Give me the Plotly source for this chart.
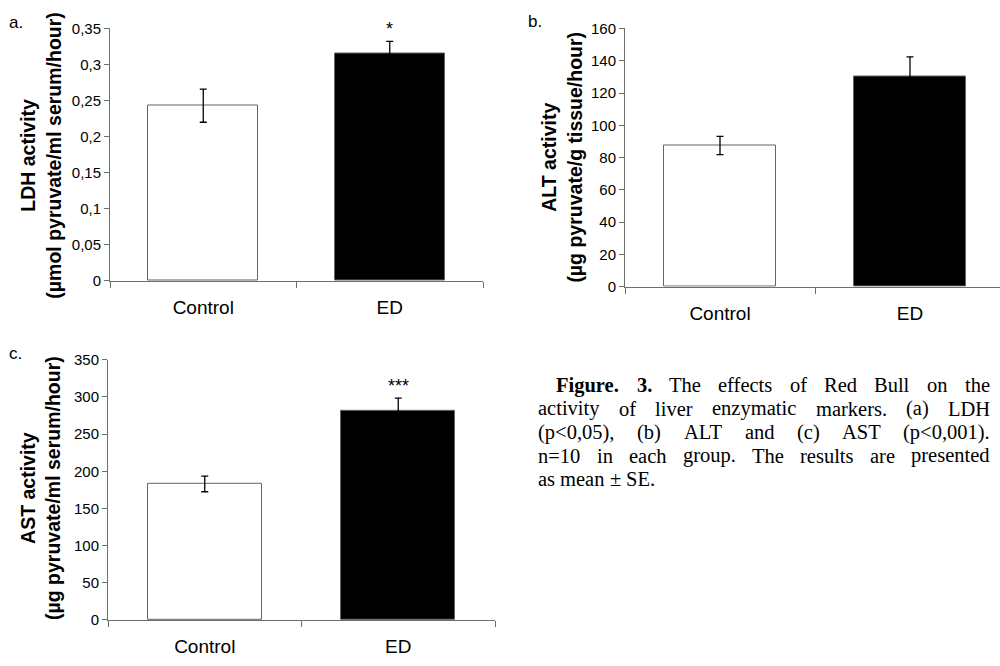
import plotly.graph_objects as go

# ---------------- data ----------------
groups = ["Control", "ED"]
bar_colors = ["white", "black"]

ldh_mean = [0.243, 0.315]
ldh_se = [0.023, 0.017]
alt_mean = [87.5, 130.0]
alt_se = [5.7, 12.4]
ast_mean = [183.0, 282.0]
ast_se = [10.5, 16.5]

ldh_tickvals = [0, 0.05, 0.1, 0.15, 0.2, 0.25, 0.3, 0.35]
ldh_ticktext = ["0", "0,05", "0,1", "0,15", "0,2", "0,25", "0,3", "0,35"]
alt_tickvals = [0, 20, 40, 60, 80, 100, 120, 140, 160]
alt_ticktext = ["0", "20", "40", "60", "80", "100", "120", "140", "160"]
ast_tickvals = [0, 50, 100, 150, 200, 250, 300, 350]
ast_ticktext = ["0", "50", "100", "150", "200", "250", "300", "350"]

ldh_stars = ["", "*"]
alt_stars = ["", ""]
ast_stars = ["", "***"]

ldh_title = ["LDH activity", "(µmol pyruvate/ml serum/hour)"]
alt_title = ["ALT activity", "(µg pyruvate/g tissue/hour)"]
ast_title = ["AST activity", "(µg pyruvate/ml serum/hour)"]

caption_lines = [
    "Figure. 3. The effects of Red Bull on the",
    "activity of liver enzymatic markers. (a) LDH",
    "(p<0,05), (b) ALT and (c) AST (p<0,001).",
    "n=10 in each group. The results are presented",
    "as mean ± SE.",
]
caption_bold_words = 2  # "Figure." and "3." are bold

# ---------------- layout helpers ----------------
W, H = 1000, 666
SANS = "Liberation Sans, Arial, sans-serif"
SERIF = "Liberation Serif, Times New Roman, serif"
AXC = "#6e6e6e"


def fx(p):
    return p / W


def fy(p):
    return 1 - p / H


fig = go.Figure()

panels = [
    dict(mean=ldh_mean, se=ldh_se, tv=ldh_tickvals, tt=ldh_ticktext, stars=ldh_stars,
         title=ldh_title, xdom=[110, 483], ytop=20, ybot=279, xr=[-0.5, 1.5],
         yr=[0, 0.35], tx=40.5, ty=151, letter="a.", lx=16, ly=14),
    dict(mean=alt_mean, se=alt_se, tv=alt_tickvals, tt=alt_ticktext, stars=alt_stars,
         title=alt_title, xdom=[625, 1000], ytop=20, ybot=285, xr=[-0.5, -0.5 + 375 / 190],
         yr=[0, 160], tx=561.5, ty=152, letter="b.", lx=535, ly=13),
    dict(mean=ast_mean, se=ast_se, tv=ast_tickvals, tt=ast_ticktext, stars=ast_stars,
         title=ast_title, xdom=[108, 495], ytop=360, ybot=627, xr=[-0.5, 1.5],
         yr=[0, 350], tx=40.5, ty=492, letter="c.", lx=15, ly=354),
]

layout_axes = {}
annotations = []
for i, p in enumerate(panels, start=1):
    sfx = "" if i == 1 else str(i)
    fig.add_trace(go.Bar(
        x=groups, y=p["mean"], width=0.59,
        marker=dict(color=bar_colors, line=dict(color="#666666", width=1)),
        error_y=dict(type="data", array=p["se"], visible=True, color="black",
                     thickness=1.3, width=3.5),
        xaxis="x" + sfx, yaxis="y" + sfx, showlegend=False, hoverinfo="skip",
    ))
    layout_axes["xaxis" + sfx] = dict(
        domain=[fx(p["xdom"][0]), fx(p["xdom"][1])], range=p["xr"], type="category",
        anchor="y" + sfx, showline=True, linecolor=AXC, linewidth=1,
        ticks="outside", tickson="boundaries", ticklen=6, tickcolor=AXC, tickwidth=1,
        tickfont=dict(family=SANS, size=19, color="black"), ticklabelstandoff=9,
        showgrid=False, zeroline=False, fixedrange=True,
    )
    layout_axes["yaxis" + sfx] = dict(
        domain=[fy(p["ybot"]), fy(p["ytop"])], range=p["yr"], anchor="x" + sfx,
        showline=True, linecolor=AXC, linewidth=1, ticks="outside", ticklen=5,
        tickcolor=AXC, tickwidth=1, tickvals=p["tv"], ticktext=p["tt"],
        tickfont=dict(family=SANS, size=15, color="black"),
        showgrid=False, zeroline=False, fixedrange=True,
    )
    # significance stars
    for g, m, s, st in zip(groups, p["mean"], p["se"], p["stars"]):
        if st:
            annotations.append(dict(
                x=g, y=m + s, xref="x" + sfx, yref="y" + sfx, text=st, showarrow=False,
                yanchor="bottom", yshift=0, font=dict(family=SANS, size=18, color="black"),
            ))
    # y-axis titles
    annotations.append(dict(
        x=fx(p["tx"]), y=fy(p["ty"]), xref="paper", yref="paper",
        text="<b>" + p["title"][0] + "</b><br><b>" + p["title"][1] + "</b>",
        textangle=-90, showarrow=False, xanchor="center", yanchor="middle",
        font=dict(family=SANS, size=19.5, color="black"),
    ))
    # panel letters
    annotations.append(dict(
        x=fx(p["lx"]), y=fy(p["ly"]), xref="paper", yref="paper", text=p["letter"],
        showarrow=False, xanchor="center", yanchor="middle",
        font=dict(family=SANS, size=17, color="black"),
    ))

# ---------------- justified caption ----------------
REG = {' ': 250, '(': 333, ')': 333, ',': 250, '.': 250, '/': 278, '<': 564, '=': 564,
       '±': 564, 'A': 722, 'B': 667, 'D': 722, 'E': 611, 'F': 556, 'H': 722, 'L': 611,
       'R': 667, 'S': 556, 'T': 611, 'a': 444, 'b': 500, 'c': 444, 'd': 500, 'e': 444,
       'f': 333, 'g': 500, 'h': 500, 'i': 278, 'k': 500, 'l': 278, 'm': 778, 'n': 500,
       'o': 500, 'p': 500, 'r': 333, 's': 389, 't': 278, 'u': 500, 'v': 500, 'y': 500,
       'z': 444}
for d in "0123456789":
    REG[d] = 500
BOLD = {'F': 611, 'i': 278, 'g': 500, 'u': 556, 'r': 444, 'e': 444, '.': 250, '3': 500}

CAP_FS = 20.5
CAP_LEFT, CAP_RIGHT, CAP_INDENT = 538, 990, 18
CAP_Y0, CAP_DY = 386, 24.2


def word_width(w, bold):
    tab = BOLD if bold else REG
    return sum(tab.get(c, REG.get(c, 500)) for c in w) / 1000 * CAP_FS


for li, line in enumerate(caption_lines):
    words = line.split(" ")
    bolds = [li == 0 and k < caption_bold_words for k in range(len(words))]
    widths = [word_width(w, b) for w, b in zip(words, bolds)]
    left = CAP_LEFT + (CAP_INDENT if li == 0 else 0)
    last = li == len(caption_lines) - 1
    if last or len(words) == 1:
        gap = 0.25 * CAP_FS
    else:
        gap = (CAP_RIGHT - left - sum(widths)) / (len(words) - 1)
    xpos = left
    ypos = CAP_Y0 + li * CAP_DY
    for w, b, wd in zip(words, bolds, widths):
        annotations.append(dict(
            x=fx(xpos + wd / 2), y=fy(ypos), xref="paper", yref="paper",
            text=("<b>" + w + "</b>") if b else w, showarrow=False,
            xanchor="center", yanchor="middle",
            font=dict(family=SERIF, size=CAP_FS, color="black"),
        ))
        xpos += wd + gap

fig.update_layout(
    width=W, height=H, margin=dict(l=0, r=0, t=0, b=0),
    paper_bgcolor="white", plot_bgcolor="white",
    annotations=annotations, bargap=0, **layout_axes,
)

fig.write_html("out.html", config={"displayModeBar": False},
               post_script="document.body.style.margin='0px';")
